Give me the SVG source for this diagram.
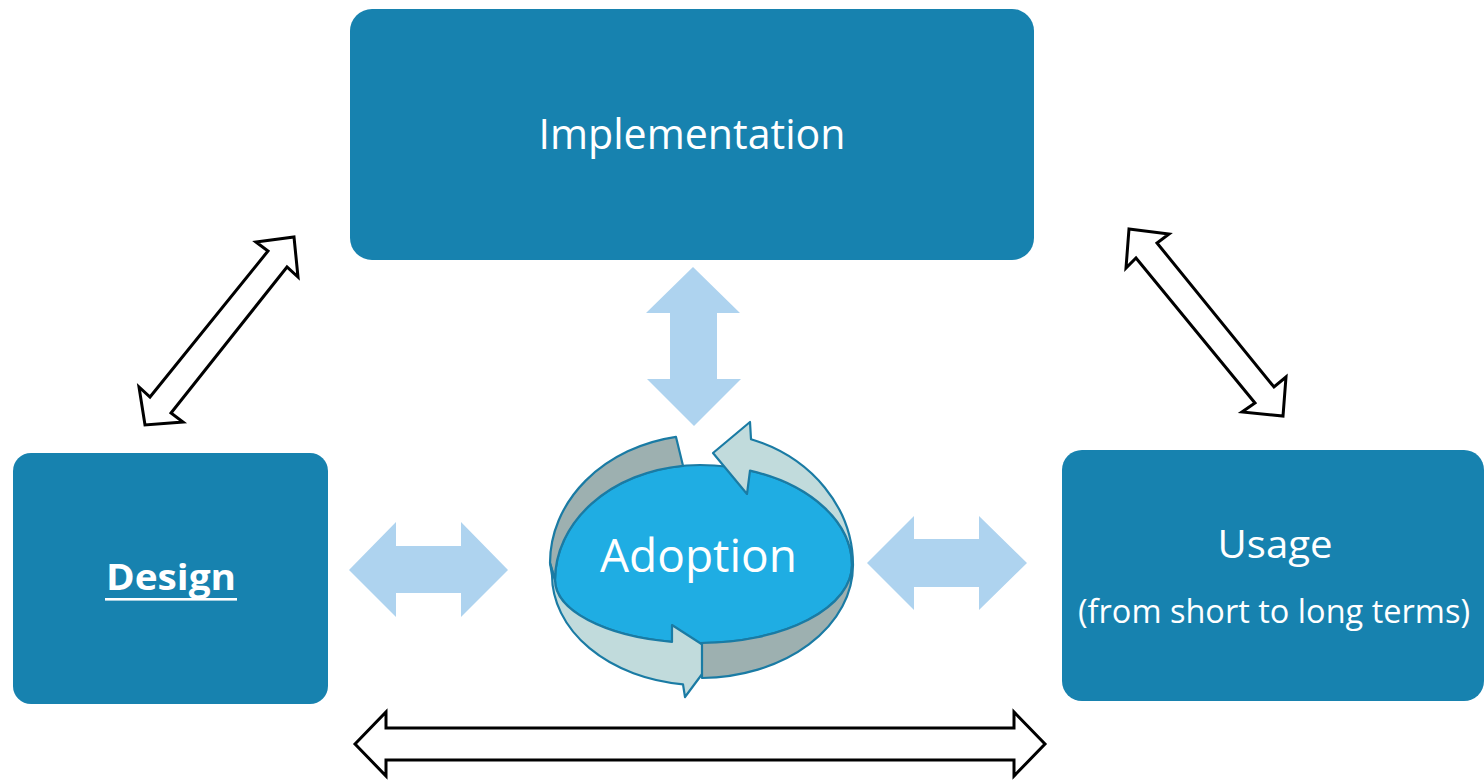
<svg xmlns="http://www.w3.org/2000/svg" width="1484" height="780" viewBox="0 0 1484 780">
<defs>
<style>
.box{fill:#1782AF;}
.lbl{font-family:"Open Sans","Liberation Sans",sans-serif;fill:#FFFFFF;text-anchor:middle;}
.soft{fill:#AED3EF;stroke:none;}
.hollow{fill:#FFFFFF;stroke:#000000;stroke-width:3;stroke-linejoin:miter;}
.ring{stroke:#1A7BA4;stroke-width:2.2;stroke-linejoin:round;}
.dark{fill:#9DB0B0;}
.light{fill:#C1DBDC;}
</style>
</defs>
<rect width="1484" height="780" fill="#FFFFFF"/>

<g id="connectors">
<polygon class="soft" points="693,267 740,313 717,313 717,379 741,379 694,426 647,379 670,379 670,313 646,313"/>
<polygon class="soft" points="349,570 396,522 396,546 461,546 461,522 508,570 461,617 461,593 396,593 396,617"/>
<polygon class="soft" points="867,563 914,516 914,539 979,539 979,516 1027,563 979,610 979,587 914,587 914,610"/>
<polygon class="hollow" points="294,237 298,277 287,267 171,413 183,422 145,425 139,387 150,397 268,251 256,242"/>
<polygon class="hollow" points="1129,229 1169,234 1157,243 1274,387 1286,377 1283,416 1242,412 1255,403 1136,258 1126,268"/>
<polygon class="hollow" points="355,744 386,712 386,728 1014,728 1014,712 1045,744 1014,776 1014,760 386,760 386,776"/>
</g>

<g id="node-implementation">
<rect class="box" x="350" y="9" width="684" height="251" rx="22" ry="22"/>
<text class="lbl" x="692" y="149" font-size="42" textLength="307" lengthAdjust="spacingAndGlyphs">Implementation</text>
</g>

<g id="node-design">
<rect class="box" x="13" y="453" width="315" height="251" rx="18" ry="18"/>
<text class="lbl" x="171" y="590" font-size="36" font-weight="bold" textLength="130" lengthAdjust="spacingAndGlyphs">Design</text>
<rect x="105" y="598" width="132" height="2.6" fill="#FFFFFF"/>
</g>

<g id="node-usage">
<rect class="box" x="1062" y="450" width="422" height="251" rx="20" ry="20"/>
<text class="lbl" x="1275" y="558" font-size="39" textLength="115" lengthAdjust="spacingAndGlyphs">Usage</text>
<text class="lbl" x="1274" y="623" font-size="32" textLength="392" lengthAdjust="spacingAndGlyphs">(from short to long terms)</text>
</g>

<g id="node-adoption">
<path class="ring" fill="#1FADE3" d="M555,580 A145,115 0 0 1 700,465 A152,100 0 0 1 852,565 A152,78 0 0 1 700,643 A145,63 0 0 1 555,580 Z"/>
<path class="ring dark" d="M676,436.9 A152,128 0 0 0 550,563 L555,580 A145,115 0 0 1 683,465.8 Z"/>
<path class="ring light" d="M751,439.2 A151,133 0 0 1 853,565 L852,565 A152,100 0 0 0 750,470.6 L747,494 L713,453 L750,422 Z"/>
<path class="ring light" d="M555,580 A145,63 0 0 0 672,641.8 L672,625 L717,654 L685,697 L683,684.3 A148,110 0 0 1 552,575 L550,563 Z"/>
<path class="ring dark" d="M702,643 A152,78 0 0 0 852,565 L853,565 A153,113 0 0 1 702,678 Z"/>
<text class="lbl" x="698.5" y="572" font-size="45" textLength="197" lengthAdjust="spacingAndGlyphs">Adoption</text>
</g>
</svg>
